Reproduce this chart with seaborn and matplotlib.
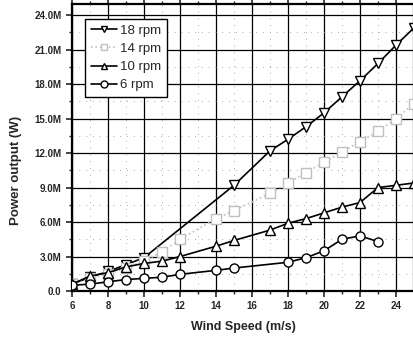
import numpy as np
import pandas as pd
import matplotlib
matplotlib.use("Agg")
import matplotlib.pyplot as plt
from matplotlib.ticker import MultipleLocator, FuncFormatter
import seaborn as sns

# Wind speed (m/s) and power output (MW) per rotor speed
wind_18 = [6, 7, 8, 9, 10, 15, 17, 18, 19, 20, 21, 22, 23, 24, 25]
power_18 = [0.6, 1.2, 1.7, 2.3, 2.9, 9.2, 12.2, 13.2, 14.3, 15.5, 16.9, 18.3, 19.8, 21.4, 22.9]

wind_14 = [6, 7, 8, 9, 10, 11, 12, 14, 15, 17, 18, 19, 20, 21, 22, 23, 24, 25]
power_14 = [0.6, 1.1, 1.5, 2.0, 2.6, 3.4, 4.5, 6.3, 7.0, 8.5, 9.4, 10.3, 11.2, 12.1, 13.0, 13.9, 15.0, 16.3]

wind_10 = [6, 7, 8, 9, 10, 11, 12, 14, 15, 17, 18, 19, 20, 21, 22, 23, 24, 25]
power_10 = [0.6, 1.3, 1.6, 2.1, 2.4, 2.6, 3.0, 3.9, 4.4, 5.3, 5.9, 6.3, 6.8, 7.3, 7.7, 9.0, 9.2, 9.4]

wind_6 = [6, 7, 8, 9, 10, 11, 12, 14, 15, 18, 19, 20, 21, 22, 23]
power_6 = [0.5, 0.6, 0.8, 1.0, 1.1, 1.2, 1.45, 1.8, 2.0, 2.5, 2.9, 3.5, 4.5, 4.8, 4.3]

labels = ["18 rpm", "14 rpm", "10 rpm", "6 rpm"]

sns.set_style("ticks")
plt.rcParams["font.family"] = ["Liberation Sans", "DejaVu Sans"]

fig = plt.figure(figsize=(4.14, 3.38), dpi=100)
ax = fig.add_axes([0.174, 0.139, 0.826, 0.85])

series = [
    (wind_18, power_18, labels[0], "v", "black", "-"),
    (wind_14, power_14, labels[1], "s", "#c0c0c0", ":"),
    (wind_10, power_10, labels[2], "^", "black", "-"),
    (wind_6, power_6, labels[3], "o", "black", "-"),
]
for xs, ys, lab, mk, col, ls in series:
    sns.lineplot(x=xs, y=np.array(ys) * 1e6, ax=ax, label=lab, color=col,
                 linestyle=ls, linewidth=1.2, marker=mk, markersize=6.5,
                 markerfacecolor="white", markeredgecolor=col, markeredgewidth=1.0,
                 zorder=3)

ax.set_xlim(6, 25)
ax.set_ylim(0, 25e6)
ax.xaxis.set_major_locator(MultipleLocator(2))
ax.xaxis.set_minor_locator(MultipleLocator(1))
ax.yaxis.set_major_locator(MultipleLocator(3e6))
ax.yaxis.set_minor_locator(MultipleLocator(1.5e6))
ax.yaxis.set_major_formatter(FuncFormatter(lambda v, p: "0.0" if v == 0 else f"{v/1e6:.1f}M"))

ax.grid(which="major", color="black", linewidth=0.9)
ax.grid(which="minor", color="#aaaaaa", linestyle=(0, (1, 6)), linewidth=0.7)
ax.set_axisbelow(True)

for s in ax.spines.values():
    s.set_linewidth(1.6)
    s.set_color("black")

ax.tick_params(axis="both", which="major", direction="out", length=4, width=1.2,
               labelsize=7, top=True, right=True)
ax.tick_params(axis="both", which="minor", direction="out", length=2, width=1.0,
               top=True, right=True)
for lab in ax.get_xticklabels() + ax.get_yticklabels():
    lab.set_fontweight("bold")

ax.set_xlabel("Wind Speed (m/s)", fontsize=9, fontweight="heavy")
ax.set_ylabel("Power output (W)", fontsize=9.5, fontweight="heavy")
ax.xaxis.set_label_coords(0.5, -0.105)
ax.yaxis.set_label_coords(-0.145, 0.42)

leg = ax.legend(loc="upper left", bbox_to_anchor=(0.038, 0.948), fontsize=9.5,
                frameon=True, fancybox=False, edgecolor="black", framealpha=1,
                handlelength=2.0, handletextpad=0.2, borderpad=0.45,
                labelspacing=0.45, borderaxespad=0)
leg.get_frame().set_linewidth(1.0)
for h in leg.legend_handles:
    h.set_markersize(5)

fig.savefig("out.png", dpi=100)
